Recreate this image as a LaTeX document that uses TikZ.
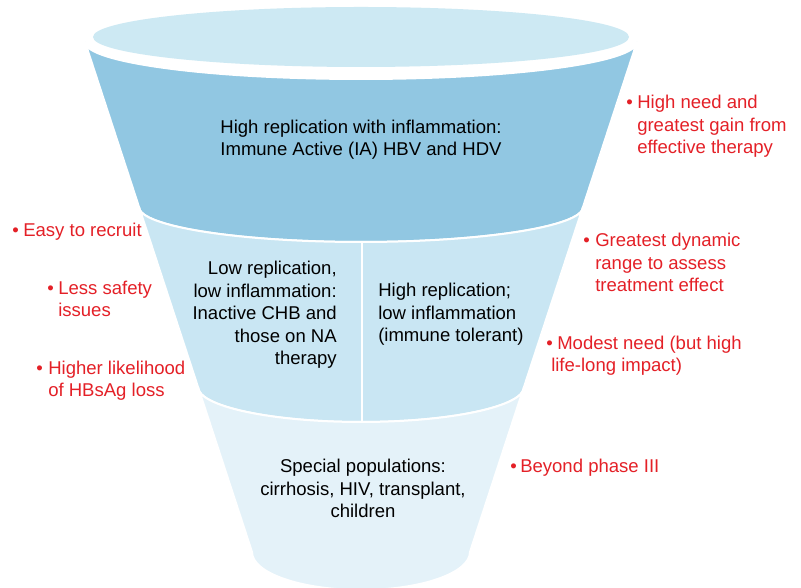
\documentclass[tikz,border=0pt]{standalone}
\usepackage{fontspec}
\setmainfont{Liberation Sans}
\definecolor{lidblue}{RGB}{205,233,243}
\definecolor{topblue}{RGB}{145,199,226}
\definecolor{midblue}{RGB}{201,230,243}
\definecolor{lowblue}{RGB}{228,242,249}
\definecolor{notered}{RGB}{228,32,39}
\begin{document}
\begin{tikzpicture}[x=0.75pt,y=0.75pt,
  band/.style={fill=#1, draw=white, line width=1.5pt},
  label/.style={inner sep=0pt, font=\fontsize{13.9pt}{16.9pt}\selectfont, text=black},
  note/.style={inner sep=0pt, font=\fontsize{13.9pt}{16.9pt}\selectfont, text=notered, align=left, anchor=base west}]
\useasboundingbox (0,0) rectangle (801,588);
\clip (0,0) rectangle (801,588);
\fill[white] (0,0) rectangle (801,588);

% funnel rim
\fill[lidblue] (361,551) ellipse [x radius=268, y radius=30];

% upper band
\path[band=topblue] (85,546) arc[start angle=180, end angle=360, x radius=276, y radius=37]
  -- (583,381) arc[start angle=0, end angle=-180, x radius=222, y radius=35] -- cycle;
% middle band
\path[band=midblue] (139,381) arc[start angle=180, end angle=360, x radius=222, y radius=35]
  -- (524,201) arc[start angle=0, end angle=-180, x radius=163, y radius=35] -- cycle;
% lower band
\path[band=lowblue] (198,201) arc[start angle=180, end angle=360, x radius=163, y radius=35]
  -- (470,36) arc[start angle=0, end angle=-180, x radius=109, y radius=38] -- cycle;
% divider of the middle band
\draw[white, line width=1.5pt] (361.5,346) -- (361.5,166);

% band labels (anchored at the baseline of their last line)
\node[label, align=center, anchor=base] (ia) at (361,432)
  {High replication with inflammation:\\Immune Active (IA) HBV and HDV};
\node[label, align=right, anchor=base east] (inactive) at (337,223)
  {Low replication,\\low inflammation:\\Inactive CHB and\\those on NA\\therapy};
\node[label, align=left, anchor=base west] (tolerant) at (378,246)
  {High replication;\\low inflammation\\(immune tolerant)};
\node[label, align=center, anchor=base] (special) at (363,70)
  {Special populations:\\cirrhosis, HIV, transplant,\\children};

% side notes
\node[note] (need) at (626,434)
  {\makebox[8.25pt][l]{•}High need and\\\hspace*{8.25pt}greatest gain from\\\hspace*{8.25pt}effective therapy};
\node[note] (range) at (583,296)
  {\makebox[9pt][l]{•}Greatest dynamic\\\hspace*{9pt}range to assess\\\hspace*{9pt}treatment effect};
\node[note] (modest) at (546,216)
  {\makebox[8.25pt][l]{•}Modest need (but high\\\hspace*{3.75pt}life-long impact)};
\node[note] (beyond) at (510,115) {\makebox[7.5pt][l]{•}Beyond phase III};
\node[note] (recruit) at (12,351) {\makebox[8.25pt][l]{•}Easy to recruit};
\node[note] (safety) at (47,271)
  {\makebox[8.25pt][l]{•}Less safety\\\hspace*{8.25pt}issues};
\node[note] (hbsag) at (36,191)
  {\makebox[9pt][l]{•}Higher likelihood\\\hspace*{9pt}of HBsAg loss};
\end{tikzpicture}
\end{document}
